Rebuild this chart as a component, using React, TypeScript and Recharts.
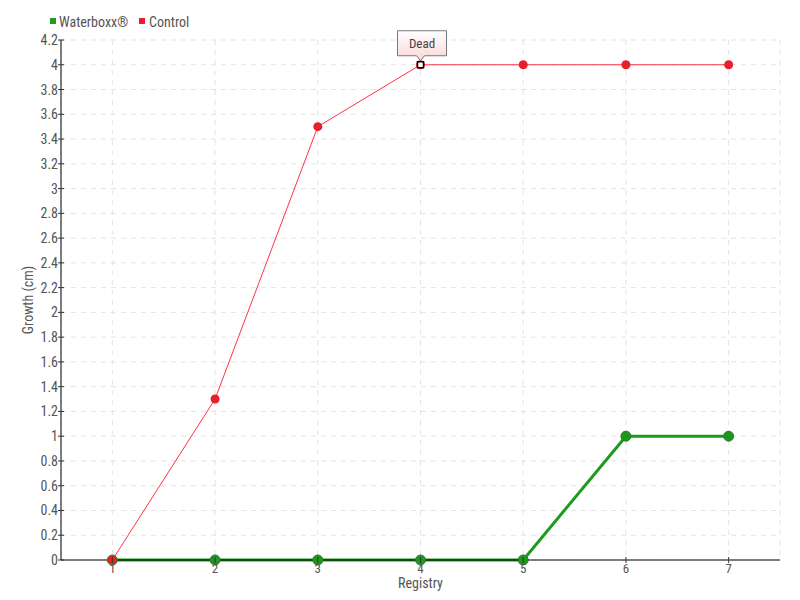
import React from "react";
import { LineChart, Line, XAxis, YAxis, CartesianGrid, ReferenceDot } from "recharts";

const registries = [1, 2, 3, 4, 5, 6, 7];
const waterboxx = [0, 0, 0, 0, 0, 1, 1];
const control = [0, 1.3, 3.5, 4, 4, 4, 4];
const yTicks = [0, 0.2, 0.4, 0.6, 0.8, 1, 1.2, 1.4, 1.6, 1.8, 2, 2.2, 2.4, 2.6, 2.8, 3, 3.2, 3.4, 3.6, 3.8, 4, 4.2];
const annotationX = 4;
const annotationY = 4;
const annotationText = "Dead";

const data = registries.map((r, i) => ({ x: r, waterboxx: waterboxx[i], control: control[i] }));

const FONT = "'Roboto Condensed', 'Liberation Sans Narrow', Roboto, sans-serif";
const TXT = "#555";

const XTick = (props: any) => {
  const { x, y, payload } = props;
  return (
    <g>
      <line x1={x} x2={x} y1={y - 3} y2={y + 3} stroke="#333" strokeWidth={1} />
      <text x={x} y={y + 13} textAnchor="middle" fill={TXT} fontSize={13} fontFamily={FONT}>
        {payload.value}
      </text>
    </g>
  );
};

const YTick = (props: any) => {
  const { x, y, payload } = props;
  return (
    <g>
      <line x1={x - 3} x2={x + 3} y1={y} y2={y} stroke="#333" strokeWidth={1} />
      <text x={x - 3} y={y + 5} textAnchor="end" fill={TXT} fontSize={14} fontFamily={FONT}>
        {String(payload.value)}
      </text>
    </g>
  );
};

const DeadShape = (props: any) => {
  const { cx, cy } = props;
  const bw = 49;
  const bh = 25;
  const bx = cx - 23;
  const by = cy - 34;
  return (
    <g>
      <defs>
        <linearGradient id="deadGrad" x1="0" y1="0" x2="0" y2="1">
          <stop offset="0%" stopColor="#ffffff" />
          <stop offset="100%" stopColor="#fbd6d6" />
        </linearGradient>
      </defs>
      <path
        d={`M${bx},${by} H${bx + bw} V${by + bh} H${cx + 4} L${cx},${by + bh + 5} L${cx - 4},${by + bh} H${bx} Z`}
        fill="url(#deadGrad)"
        stroke="#777"
        strokeWidth={1}
      />
      <text x={bx + bw / 2} y={by + 17} textAnchor="middle" fill="#444" fontSize={13} fontFamily={FONT}>
        {annotationText}
      </text>
      <rect x={cx - 3} y={cy - 3} width={6} height={6} fill="#fff" stroke="#000" strokeWidth={1.5} />
    </g>
  );
};

export default function App() {
  return (
    <div style={{ position: "absolute", left: 0, top: 0, width: 800, height: 600, background: "#fff" }}>
      <svg width={800} height={40} style={{ position: "absolute", left: 0, top: 0 }}>
        <rect x={50} y={18} width={6} height={6} fill="#1f9a1f" />
        <text x={59} y={27} fill={TXT} fontSize={14} fontFamily={FONT}>Waterboxx®</text>
        <rect x={139} y={18} width={6} height={6} fill="#ee1c2c" />
        <text x={149} y={27} fill={TXT} fontSize={14} fontFamily={FONT}>Control</text>
      </svg>
      <div style={{ position: "absolute", left: 0, top: 0 }}>
        <LineChart width={800} height={600} data={data} margin={{ top: 40, right: 20, bottom: 0, left: 0 }}>
          <CartesianGrid stroke="#e3e3e3" strokeDasharray="5 5" />
          <XAxis
            dataKey="x"
            type="number"
            domain={[0.5, 7.5]}
            ticks={registries}
            interval={0}
            height={40}
            tickSize={0}
            tickMargin={0}
            tickLine={false}
            axisLine={{ stroke: "#000", strokeWidth: 1 }}
            tick={<XTick />}
            label={{ value: "Registry", position: "insideBottom", offset: 12, fill: TXT, fontSize: 14, fontFamily: FONT }}
          />
          <YAxis
            type="number"
            domain={[0, 4.2]}
            ticks={yTicks}
            interval={0}
            width={61}
            tickSize={0}
            tickMargin={0}
            tickLine={false}
            axisLine={{ stroke: "#000", strokeWidth: 1 }}
            tick={<YTick />}
            label={{ value: "Growth (cm)", angle: -90, position: "insideLeft", offset: 28, fill: TXT, fontSize: 14, fontFamily: FONT, style: { textAnchor: "middle" } }}
          />
          <Line
            dataKey="waterboxx"
            stroke="#1f9a1f"
            strokeWidth={3}
            dot={{ r: 5, fill: "#1f961f", stroke: "#2b7d2b", strokeWidth: 1 }}
            isAnimationActive={false}
          />
          <Line
            dataKey="control"
            stroke="#ff3344"
            strokeWidth={1}
            dot={{ r: 4.5, fill: "#e8202a", stroke: "#e8202a", strokeWidth: 0 }}
            isAnimationActive={false}
          />
          <ReferenceDot x={annotationX} y={annotationY} r={5} shape={<DeadShape />} />
        </LineChart>
      </div>
    </div>
  );
}
